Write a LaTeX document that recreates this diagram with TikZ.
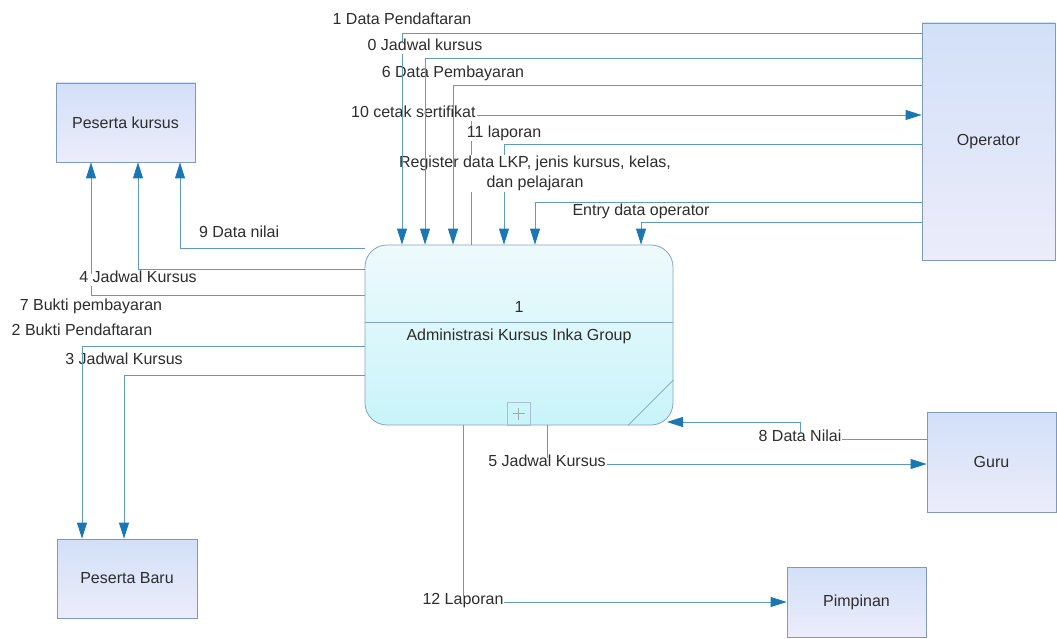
\documentclass[tikz,border=0pt]{standalone}
\usepackage{fontspec}
\setmainfont{Liberation Sans}
\usetikzlibrary{arrows.meta,positioning}
\definecolor{flowline}{RGB}{95,155,190}
\definecolor{flowtip}{RGB}{25,120,180}
\definecolor{entborder}{RGB}{125,155,185}
\definecolor{enttop}{RGB}{210,224,248}
\definecolor{entbot}{RGB}{236,236,250}
\definecolor{proctop}{RGB}{238,250,252}
\definecolor{procbot}{RGB}{200,244,250}
\definecolor{procborder}{RGB}{130,165,195}
\definecolor{plusc}{RGB}{170,190,210}
\definecolor{txt}{RGB}{45,45,45}

\begin{document}
\begin{tikzpicture}[
    x=1pt, y=-1pt,
    entity/.style={rectangle, draw=entborder, top color=enttop, bottom color=entbot, line width=0.8pt, text=txt, font=\fontsize{16}{20}\selectfont},
    process/.style={rectangle, draw=procborder, top color=proctop, bottom color=procbot, line width=0.8pt, rounded corners=22pt, minimum width=308pt, minimum height=180pt},
    flow/.style={draw=flowline, line width=0.8pt, -{Triangle[length=16pt,width=10pt,color=flowtip]}},
    lblbase/.style={fill=white, inner sep=1pt, text=txt, font=\fontsize{16}{20}\selectfont},
    lbl/.style={lblbase, text height=0.75em, text depth=0.25em}
]
    \useasboundingbox (0,0) rectangle (1057,639);

    % external entities
    \node[entity, minimum width=139pt, minimum height=79pt] (pk) at (125.5,122.5) {Peserta kursus};
    \node[entity, minimum width=140pt, minimum height=79pt] (pb) at (127,578.5) {Peserta Baru};
    \node[entity, minimum width=133pt, minimum height=237pt] (op) at (988.5,141.5) {Operator};
    \node[entity, minimum width=129pt, minimum height=100pt] (guru) at (991.5,462) {Guru};
    \node[entity, minimum width=139pt, minimum height=70pt] (pim) at (856.5,602) {Pimpinan};

    % process
    \node[process] (proc) at (519,335) {};
    \node[text=txt, font=\fontsize{16}{20}\selectfont] (pnum) at (519,307) {1};
    \node[text=txt, font=\fontsize{16}{20}\selectfont] (pname) at (519,336) {Administrasi Kursus Inka Group};
    \draw[procborder, line width=0.8pt] (proc.west |- 0,322) -- (proc.east |- 0,322);
    \draw[procborder, line width=0.8pt] (628,0 |- proc.south) -- (proc.east |- 0,380);
    \node[draw=plusc, minimum size=23pt, inner sep=0pt] (plus) at (518.5,413.5) {};
    \draw[gray!70] ([yshift=-6pt]plus.center) -- ([yshift=6pt]plus.center);
    \draw[gray!70] ([xshift=-6pt]plus.center) -- ([xshift=6pt]plus.center);
    \coordinate (nilaiin) at (667,422);

    % flows below
    \draw[flow] (463,0 |- proc.south) |- node[lbl, pos=.5] {12 Laporan} (pim.west);
    \draw[flow] (547,0 |- proc.south) |- node[lbl, pos=.5] {5 Jadwal Kursus} (guru.west |- 0,464);
    \draw[flow] (guru.west |- 0,439) -| node[lbl, pos=.5] {8 Data Nilai} (800,422) -- (nilaiin);

    % flows from and to operator
    \draw[flow] (op.west |- 0,222) -| node[lbl, pos=.5, above=3pt] {Entry data operator} (641,0 |- proc.north);
    \draw[flow] (471,0 |- proc.north) |- node[lbl, pos=.5, anchor=east, xshift=6pt] {10 cetak sertifikat} (op.west |- 0,115);
    \draw[flow] (op.west |- 0,144) -| node[lbl, pos=.5, above=3pt] {11 laporan} (504,0 |- proc.north);
    \draw[flow] (op.west |- 0,202) -| node[lblbase, pos=.5, above=10pt, align=center] {Register data LKP, jenis kursus, kelas,\\dan pelajaran} (535,0 |- proc.north);
    \draw[flow] (op.west |- 0,85) -| node[lbl, pos=.5, above=4pt] {6 Data Pembayaran} (453,0 |- proc.north);
    \draw[flow] (op.west |- 0,33) -| node[lbl, pos=.5, above=5pt] {1 Data Pendaftaran} (402,0 |- proc.north);
    \draw[flow] (op.west |- 0,58) -| node[lbl, pos=.5, above=4pt] {0 Jadwal kursus} (425,0 |- proc.north);

    % flows to peserta
    \draw[flow] (proc.west |- 0,295) -| node[lbl, pos=.5, below=7pt] {7 Bukti pembayaran} (pk.south -| 91,0);
    \draw[flow] (proc.west |- 0,269) -| node[lbl, pos=.5, below=5pt] {4 Jadwal Kursus} (pk.south -| 138,0);
    \draw[flow] (proc.west |- 0,248) -| node[lbl, pos=.34, above=7pt] {9 Data nilai} (pk.south -| 180,0);
    \draw[flow] (proc.west |- 0,375) -| node[lbl, pos=.5, above=7pt] {3 Jadwal Kursus} (pb.north -| 124,0);
    \draw[flow] (proc.west |- 0,346) -| node[lbl, pos=.5, above=7pt] {2 Bukti Pendaftaran} (pb.north -| 82,0);
\end{tikzpicture}
\end{document}
